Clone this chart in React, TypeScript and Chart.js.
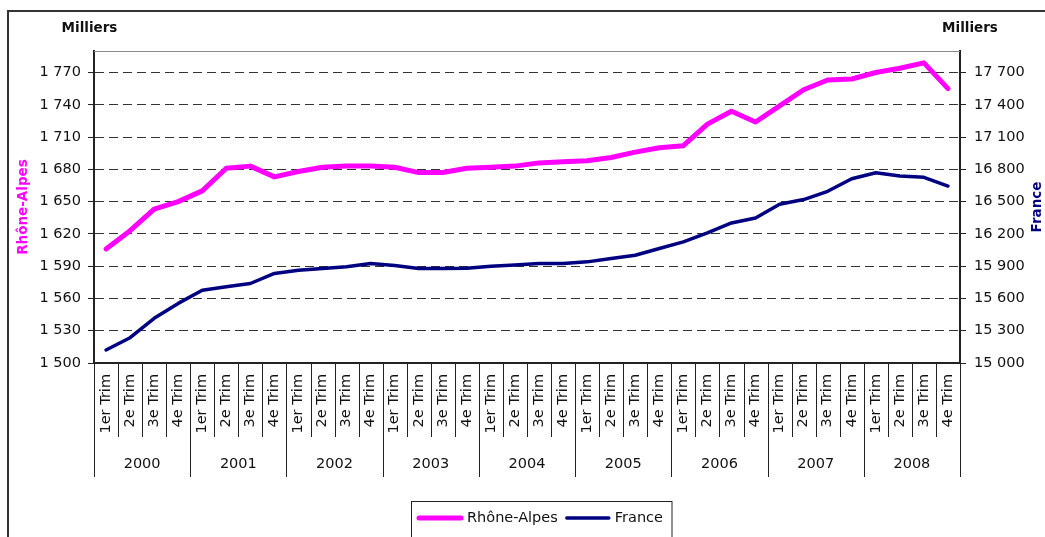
import React, { useEffect, useRef } from "react";
import { Chart, registerables } from "chart.js";

Chart.register(...registerables);

const years = ["2000", "2001", "2002", "2003", "2004", "2005", "2006", "2007", "2008"];
const quarters = ["1er Trim", "2e Trim", "3e Trim", "4e Trim"];

const rhoneAlpes = [
  1606, 1623, 1643, 1650, 1660, 1681, 1683, 1673, 1678, 1682, 1683, 1683,
  1682, 1677, 1677, 1681, 1682, 1683, 1686, 1687, 1688, 1691, 1696, 1700,
  1702, 1722, 1734, 1724, 1739, 1754, 1763, 1764, 1770, 1774, 1779, 1755,
];

const france = [
  15121, 15235, 15415, 15554, 15677, 15708, 15739, 15832, 15863, 15878, 15894, 15925,
  15906, 15878, 15878, 15881, 15900, 15912, 15925, 15925, 15940, 15971, 16002, 16064,
  16126, 16209, 16302, 16348, 16475, 16519, 16596, 16713, 16769, 16738, 16726, 16645,
];

const leftAxis = { min: 1500, max: 1790, step: 30 };
const rightAxis = { min: 15000, max: 17900, step: 300 };

const seriesNames = ["Rhône-Alpes", "France"];
const seriesColors = ["#FF00FF", "#000080"];
const unitLabel = "Milliers";

const FONT = "'DejaVu Sans', sans-serif";

const fmt = (v: number) =>
  Math.round(v).toString().replace(/\B(?=(\d{3})+(?!\d))/g, " ");

const labels = years.flatMap((y) => quarters.map((q) => q));

const decorPlugin = {
  id: "decor",
  beforeDraw(chart: any) {
    const ctx = chart.ctx;
    ctx.save();
    ctx.fillStyle = "#ffffff";
    ctx.fillRect(0, 0, chart.width, chart.height);
    ctx.strokeStyle = "#333333";
    ctx.lineWidth = 2;
    ctx.strokeRect(8, 11, chart.width + 200, chart.height + 200);
    ctx.restore();
  },
  afterDraw(chart: any) {
    const { ctx, chartArea, scales } = chart;
    const xs = scales.x;
    ctx.save();
    // top border of plot area
    ctx.strokeStyle = "#8a8a8a";
    ctx.lineWidth = 1;
    ctx.beginPath();
    ctx.moveTo(chartArea.left, Math.round(chartArea.top) + 0.5);
    ctx.lineTo(chartArea.right, Math.round(chartArea.top) + 0.5);
    ctx.stroke();

    // category separators and year labels
    const n = labels.length;
    const step = xs.getPixelForValue(1) - xs.getPixelForValue(0);
    const base = chartArea.bottom;
    ctx.strokeStyle = "#222222";
    ctx.lineWidth = 1;
    for (let i = 0; i <= n; i++) {
      const px = Math.round(xs.getPixelForValue(i) - step / 2) + 0.5;
      const len = i % 4 === 0 ? 114 : 74;
      ctx.beginPath();
      ctx.moveTo(px, base);
      ctx.lineTo(px, base + len);
      ctx.stroke();
    }
    ctx.fillStyle = "#111111";
    ctx.font = `14.5px ${FONT}`;
    ctx.textAlign = "center";
    ctx.textBaseline = "middle";
    years.forEach((y, k) => {
      const cx = (xs.getPixelForValue(4 * k) + xs.getPixelForValue(4 * k + 3)) / 2;
      ctx.fillText(y, cx, base + 101);
    });

    // unit labels
    ctx.font = `bold 13.5px ${FONT}`;
    ctx.fillText(unitLabel, 89.5, 28);
    ctx.fillText(unitLabel, 970, 28);

    // right axis title (reads bottom to top)
    ctx.save();
    ctx.translate(1037, (chartArea.top + chartArea.bottom) / 2);
    ctx.rotate(-Math.PI / 2);
    ctx.fillStyle = seriesColors[1];
    ctx.font = `bold 13.5px ${FONT}`;
    ctx.fillText(seriesNames[1], 0, 0);
    ctx.restore();

    // legend
    const ly = 518;
    let cx = 417;
    ctx.font = `14.5px ${FONT}`;
    ctx.textAlign = "left";
    ctx.lineCap = "round";
    chart.data.datasets.forEach((ds: any) => {
      ctx.strokeStyle = ds.borderColor;
      ctx.lineWidth = ds.borderWidth;
      ctx.beginPath();
      ctx.moveTo(cx + 2, ly);
      ctx.lineTo(cx + 44, ly);
      ctx.stroke();
      ctx.fillStyle = "#111111";
      ctx.fillText(ds.label, cx + 50, ly);
      cx += 50 + ctx.measureText(ds.label).width + 7;
    });
    ctx.strokeStyle = "#222222";
    ctx.lineWidth = 1;
    ctx.strokeRect(411.5, 501.5, cx + 2 - 411.5, 80);
    ctx.restore();
  },
};

export default function App() {
  const ref = useRef<HTMLCanvasElement | null>(null);

  useEffect(() => {
    if (!ref.current) return;
    const chart = new Chart(ref.current, {
      type: "line",
      data: {
        labels,
        datasets: [
          {
            label: seriesNames[0],
            data: rhoneAlpes,
            yAxisID: "y",
            borderColor: seriesColors[0],
            backgroundColor: seriesColors[0],
            borderWidth: 5,
            pointRadius: 0,
            tension: 0,
            borderCapStyle: "round",
            borderJoinStyle: "round",
          },
          {
            label: seriesNames[1],
            data: france,
            yAxisID: "y1",
            borderColor: seriesColors[1],
            backgroundColor: seriesColors[1],
            borderWidth: 3.5,
            pointRadius: 0,
            tension: 0,
            borderCapStyle: "round",
            borderJoinStyle: "round",
          },
        ],
      },
      options: {
        responsive: false,
        animation: false,
        layout: { padding: { top: 51, left: 0, right: 0, bottom: 0 } },
        plugins: {
          legend: { display: false },
          tooltip: { enabled: false },
        },
        scales: {
          x: {
            type: "category",
            offset: true,
            grid: { display: false, drawTicks: false },
            border: { display: true, color: "#222222", width: 2 },
            ticks: {
              autoSkip: false,
              minRotation: 90,
              maxRotation: 90,
              padding: 11,
              color: "#111111",
              font: { family: FONT, size: 14.5 },
              callback: (v: any, i: number) => quarters[i % 4],
            },
            afterFit: (s: any) => {
              s.height = 174;
            },
          },
          y: {
            position: "left",
            min: leftAxis.min,
            max: leftAxis.max,
            grid: {
              color: "#333333",
              lineWidth: 1,
              drawTicks: true,
              tickLength: 6,
              tickColor: "#222222",
              tickBorderDash: [],
            },
            border: { display: true, color: "#222222", width: 2, dash: [9, 5] },
            ticks: {
              stepSize: leftAxis.step,
              includeBounds: false,
              padding: 7,
              color: "#111111",
              font: { family: FONT, size: 14.5 },
              callback: (v: any) => fmt(Number(v)),
            },
            title: {
              display: true,
              text: seriesNames[0],
              color: seriesColors[0],
              font: { family: FONT, size: 13.5, weight: "bold" },
              padding: { top: 15, bottom: 0 },
            },
            afterFit: (s: any) => {
              s.width = 94;
            },
          },
          y1: {
            position: "right",
            min: rightAxis.min,
            max: rightAxis.max,
            grid: {
              drawOnChartArea: false,
              drawTicks: true,
              tickLength: 6,
              tickColor: "#222222",
            },
            border: { display: true, color: "#222222", width: 2 },
            ticks: {
              stepSize: rightAxis.step,
              includeBounds: false,
              padding: 8,
              color: "#111111",
              font: { family: FONT, size: 14.5 },
              callback: (v: any) => fmt(Number(v)),
            },
            afterFit: (s: any) => {
              s.width = 85;
            },
          },
        },
      },
      plugins: [decorPlugin],
    } as any);
    return () => chart.destroy();
  }, []);

  return (
    <div
      style={{
        position: "fixed",
        left: 0,
        top: 0,
        width: 1045,
        height: 537,
        overflow: "hidden",
        background: "#fff",
      }}
    >
      <canvas ref={ref} width={1045} height={537} style={{ width: 1045, height: 537, display: "block" }} />
    </div>
  );
}
